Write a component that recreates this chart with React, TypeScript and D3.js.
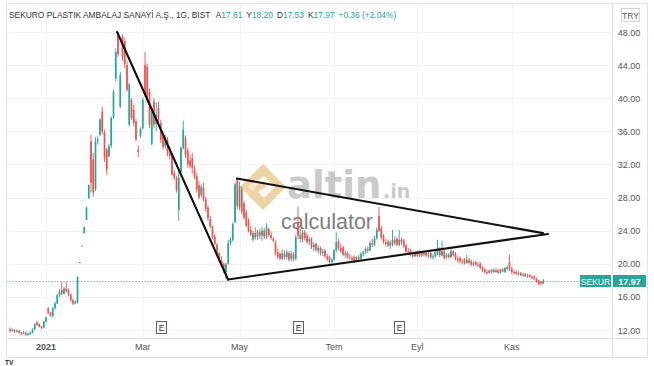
import * as d3 from "d3";

type Bar = [number, number, number, number]; // open, high, low, close

const dec2020: Bar[] = [
  [12.1, 12.3, 11.7, 11.9], [11.9, 12.2, 11.8, 12.0], [12.0, 12.1, 11.6, 11.8], [11.8, 12.1, 11.7, 11.9],
  [11.9, 12.0, 11.5, 11.7], [11.7, 11.8, 11.4, 11.6], [11.6, 11.9, 11.5, 11.7], [11.7, 11.8, 11.3, 11.4],
  [11.4, 11.7, 11.3, 11.5], [11.5, 11.8, 11.4, 11.7], [11.7, 12.2, 11.6, 12.1], [12.1, 12.8, 12.0, 12.7],
  [12.9, 13.1, 12.5, 12.6], [12.7, 12.8, 12.3, 12.4], [12.4, 12.5, 12.1, 12.3], [12.3, 13.1, 12.2, 13.0],
];
const jan: Bar[] = [
  [13.0, 13.6, 12.9, 13.5], [14.6, 14.8, 13.9, 14.0], [14.1, 14.2, 13.6, 13.7], [13.7, 14.8, 13.5, 14.6],
  [14.6, 15.4, 14.5, 15.2], [15.2, 16.4, 15.1, 16.2], [16.2, 16.9, 16.0, 16.6], [16.8, 17.8, 16.2, 16.4],
  [16.4, 17.2, 16.3, 17.0], [17.0, 17.8, 16.5, 16.7], [16.8, 17.0, 16.1, 16.3], [16.3, 16.4, 15.4, 15.6],
  [15.6, 15.8, 15.0, 15.2], [15.2, 15.6, 15.1, 15.4], [15.3, 18.5, 15.2, 18.4], [20.2, 20.2, 20.2, 20.2],
  [22.2, 22.2, 22.2, 22.2], [23.7, 24.5, 23.7, 24.4], [25.3, 26.9, 25.3, 26.8], [27.9, 29.6, 27.9, 29.5],
  [34.8, 35.6, 28.6, 29.8], [32.6, 33.4, 28.1, 28.6],
];
const feb: Bar[] = [
  [29.0, 35.3, 28.8, 34.8], [34.8, 35.4, 34.4, 35.0], [35.6, 37.6, 35.4, 37.4], [38.4, 39.0, 35.6, 36.0],
  [35.9, 36.2, 32.3, 32.8], [33.8, 34.0, 30.7, 31.4], [33.0, 34.5, 32.9, 34.2], [34.3, 37.8, 34.0, 37.6],
  [37.7, 41.0, 37.5, 40.8], [42.4, 46.0, 42.0, 45.6], [47.6, 48.0, 45.0, 45.3], [39.0, 43.2, 38.8, 42.8],
  [47.4, 47.7, 44.5, 45.0], [46.9, 47.3, 43.6, 44.2], [44.0, 44.5, 40.8, 41.0], [36.8, 41.9, 36.6, 41.7],
  [39.8, 40.0, 37.4, 37.6], [38.6, 39.2, 36.6, 37.0], [37.2, 37.5, 34.8, 35.0], [33.8, 34.3, 32.9, 33.5],
  [35.4, 36.5, 35.2, 36.3],
];
const mar: Bar[] = [
  [36.4, 40.1, 36.2, 39.8], [44.0, 45.6, 40.2, 40.5], [43.8, 44.2, 39.4, 39.6], [40.8, 41.2, 36.4, 36.8],
  [34.5, 38.8, 34.3, 38.4], [39.6, 40.0, 36.4, 36.8], [36.9, 39.5, 36.0, 38.0], [38.8, 39.6, 37.0, 37.3],
  [37.0, 37.4, 34.6, 35.0], [35.6, 35.9, 33.8, 34.1], [34.2, 35.6, 33.9, 35.2], [35.0, 35.3, 33.0, 33.4],
  [33.6, 34.2, 32.6, 33.0], [33.0, 33.3, 30.6, 30.8], [31.0, 31.3, 30.1, 30.4], [30.4, 30.6, 28.6, 28.9],
  [26.5, 31.5, 25.2, 30.4], [31.1, 34.2, 31.0, 34.0], [34.0, 37.3, 33.8, 36.2], [35.2, 35.5, 32.8, 33.1],
  [33.7, 34.0, 31.6, 32.0], [32.5, 33.2, 31.5, 31.8],
];
const apr: Bar[] = [
  [32.8, 33.4, 30.9, 31.6], [31.4, 31.9, 30.2, 30.5], [30.6, 31.0, 28.6, 29.0], [29.5, 30.0, 27.8, 28.0],
  [28.3, 29.6, 28.0, 29.3], [29.2, 29.8, 27.5, 27.8], [27.8, 28.1, 26.3, 26.6], [26.8, 27.0, 25.2, 25.5],
  [25.4, 25.8, 24.3, 24.5], [24.5, 24.6, 23.0, 23.2], [23.3, 23.6, 22.2, 22.4], [22.3, 22.5, 20.9, 21.2],
  [21.3, 21.4, 20.2, 20.4], [20.4, 20.9, 19.6, 19.8], [20.0, 20.2, 18.9, 19.2], [19.0, 20.1, 18.2, 19.9],
  [20.0, 22.9, 19.9, 22.5], [22.5, 23.2, 22.2, 22.9], [22.9, 25.0, 22.7, 24.8], [25.0, 29.8, 24.9, 29.6],
  [30.2, 30.4, 26.6, 27.0],
];
const may: Bar[] = [
  [26.8, 29.9, 26.5, 29.4], [29.0, 29.3, 26.0, 26.3], [27.3, 27.6, 25.3, 25.6], [26.2, 26.5, 24.4, 24.6],
  [25.3, 25.5, 23.8, 24.0], [24.1, 24.6, 23.3, 23.5], [22.9, 24.0, 22.7, 23.7], [23.7, 24.4, 22.9, 23.2],
  [23.3, 24.1, 22.9, 23.9], [23.8, 24.2, 23.0, 23.4], [23.4, 24.4, 22.8, 24.0], [24.0, 24.3, 23.0, 23.3],
  [23.2, 24.9, 23.0, 24.4], [24.2, 24.4, 23.2, 23.5], [23.5, 23.9, 22.9, 23.1], [23.0, 23.2, 22.6, 22.8],
  [22.6, 22.8, 21.0, 21.3], [21.4, 21.8, 20.6, 20.8], [21.2, 21.4, 20.4, 20.6], [20.6, 21.7, 20.4, 21.3],
  [21.2, 21.6, 20.5, 20.8],
];
const jun: Bar[] = [
  [20.8, 21.7, 20.5, 21.4], [21.3, 21.5, 20.3, 20.5], [20.6, 21.6, 20.3, 21.2], [21.2, 21.4, 20.3, 20.6],
  [20.6, 23.5, 20.4, 23.2], [25.0, 26.9, 23.0, 23.4], [23.5, 24.2, 22.6, 23.0], [22.9, 24.1, 22.6, 23.8],
  [23.8, 24.1, 22.8, 23.1], [23.4, 23.7, 22.4, 22.6], [22.7, 23.3, 22.3, 23.0], [23.0, 23.2, 21.8, 22.0],
  [22.0, 22.6, 21.5, 22.3], [22.4, 22.6, 21.4, 21.7], [21.6, 22.2, 21.2, 21.9], [21.9, 22.1, 21.0, 21.3],
  [21.3, 21.8, 20.9, 21.5], [21.6, 21.8, 20.7, 20.9], [20.9, 21.2, 20.3, 20.6], [20.8, 21.0, 20.0, 20.2],
  [20.2, 20.7, 20.0, 20.5],
];
const jul: Bar[] = [
  [20.5, 21.8, 20.3, 21.6], [21.6, 23.8, 21.4, 22.6], [22.7, 23.0, 21.6, 21.9], [21.9, 22.4, 21.3, 21.5],
  [22.0, 22.2, 20.9, 21.1], [21.1, 21.6, 20.7, 21.3], [21.3, 21.5, 20.6, 20.8], [20.8, 21.2, 20.5, 20.7],
  [20.7, 21.0, 20.3, 20.5], [20.8, 21.0, 20.1, 20.3], [20.3, 20.9, 20.2, 20.8], [20.8, 21.1, 20.4, 20.6],
  [20.6, 21.4, 20.5, 21.2], [21.2, 21.6, 20.9, 21.4], [21.4, 22.0, 21.2, 21.8], [21.8, 22.1, 21.3, 21.6],
  [21.6, 22.8, 21.5, 22.5], [22.5, 23.0, 22.0, 22.3], [22.3, 23.4, 22.1, 23.1],
];
const aug: Bar[] = [
  [23.1, 24.4, 22.9, 24.1], [25.8, 26.9, 23.8, 24.0], [24.3, 24.6, 22.9, 23.2], [23.4, 23.6, 22.4, 22.6],
  [22.6, 23.0, 22.1, 22.4], [22.7, 22.9, 22.0, 22.2], [22.2, 22.8, 21.8, 22.6], [22.3, 24.1, 22.1, 22.9],
  [22.9, 23.3, 22.2, 22.5], [23.0, 23.2, 22.1, 22.3], [22.3, 24.1, 22.1, 22.9], [22.9, 23.2, 22.3, 22.6],
  [22.8, 23.0, 21.9, 22.1], [22.2, 22.4, 21.3, 21.5], [21.5, 21.9, 21.1, 21.4], [21.6, 21.8, 20.9, 21.1],
  [21.1, 21.5, 20.7, 20.9], [20.9, 21.5, 20.8, 21.3],
];
const sep: Bar[] = [
  [21.3, 21.6, 20.8, 21.0], [21.4, 21.6, 20.8, 21.0], [21.0, 21.5, 20.8, 21.3], [21.3, 21.6, 20.9, 21.1],
  [21.3, 21.5, 20.8, 21.0], [21.0, 21.4, 20.7, 21.2], [21.3, 21.5, 20.6, 20.8], [20.8, 21.2, 20.5, 20.9],
  [20.9, 21.7, 20.7, 21.4], [21.1, 22.9, 21.0, 21.8], [21.8, 22.0, 20.8, 21.0], [21.0, 22.8, 20.9, 21.5],
  [21.5, 21.7, 20.5, 20.7], [20.8, 21.3, 20.6, 21.1], [21.1, 21.3, 20.6, 20.8], [20.8, 21.8, 20.7, 21.5],
  [21.5, 21.7, 20.9, 21.1], [21.2, 21.4, 20.4, 20.6], [20.6, 20.9, 20.1, 20.4], [20.7, 20.9, 20.1, 20.3],
  [20.3, 20.6, 19.9, 20.2], [20.5, 20.7, 19.9, 20.1],
];
const oct: Bar[] = [
  [20.1, 21.1, 20.0, 20.5], [20.5, 20.7, 19.9, 20.1], [20.3, 20.5, 19.7, 19.9], [19.9, 20.3, 19.7, 20.1],
  [20.2, 20.4, 19.7, 19.9], [19.9, 20.2, 19.6, 19.8], [20.0, 20.2, 19.3, 19.5], [19.5, 19.7, 19.0, 19.2],
  [19.3, 19.5, 18.8, 19.0], [19.0, 19.3, 18.7, 18.9], [18.9, 19.3, 18.8, 19.2], [19.2, 19.4, 18.8, 19.0],
  [19.0, 19.4, 18.9, 19.3], [19.2, 19.5, 18.9, 19.0], [19.2, 19.4, 18.8, 18.9], [18.9, 19.4, 18.8, 19.3],
  [19.3, 19.5, 19.0, 19.1], [19.0, 19.6, 18.9, 19.5], [19.4, 19.8, 19.2, 19.6], [20.2, 21.1, 19.1, 19.3],
];
const nov: Bar[] = [
  [19.4, 19.6, 18.8, 19.0], [19.0, 19.3, 18.7, 18.9], [19.0, 19.2, 18.6, 18.8], [18.8, 19.1, 18.5, 18.9],
  [18.9, 19.0, 18.5, 18.6], [18.6, 18.9, 18.4, 18.7], [18.8, 18.9, 18.4, 18.5], [18.5, 18.8, 18.3, 18.6],
  [18.6, 18.8, 18.3, 18.4], [18.4, 18.6, 18.1, 18.3], [18.5, 18.6, 18.0, 18.2], [18.2, 18.3, 17.7, 17.9],
  [18.0, 18.1, 17.4, 17.5], [17.8, 17.9, 17.4, 17.61], [17.61, 18.2, 17.53, 17.97],
];

const months: { label: string; bars: Bar[] }[] = [
  { label: "", bars: dec2020 },
  { label: "2021", bars: jan },
  { label: "", bars: feb },
  { label: "Mar", bars: mar },
  { label: "", bars: apr },
  { label: "May", bars: may },
  { label: "", bars: jun },
  { label: "Tem", bars: jul },
  { label: "", bars: aug },
  { label: "Eyl", bars: sep },
  { label: "", bars: oct },
  { label: "Kas", bars: nov },
];

const priceTicks = [12, 16, 20, 24, 28, 32, 36, 40, 44, 48];

// drawn trend lines: [bar index, price]
const trendLines: [number, number][][] = [
  [[47.6, 48.0], [96.9, 18.1]],
  [[96.9, 18.1], [239.1, 23.6]],
  [[100.9, 30.3], [236.9, 23.7]],
];

const earningsIdx = [67, 128, 173];

const symbol = "SEKUR";
const title = "SEKURO PLASTIK AMBALAJ SANAYİ A.Ş., 1G, BIST";
const lastChange = "+0.36 (+2.04%)";

const UP = "#26a69a";
const DOWN = "#ef5350";
const FONT = "'Liberation Sans', Arial, sans-serif";

export default function App() {
  const bars = months.flatMap((m) => m.bars);
  const monthStarts: { label: string; idx: number }[] = [];
  let acc = 0;
  months.forEach((m) => {
    if (m.label) monthStarts.push({ label: m.label, idx: acc });
    acc += m.bars.length;
  });

  const x = d3.scaleLinear().domain([0, bars.length - 1]).range([10, 10 + (bars.length - 1) * 2.25]);
  const y = d3.scaleLinear().domain([12, 48]).range([330, 32]);

  const plotL = 6.5;
  const plotR = 612.5;
  const plotB = 338.5;
  const last = bars[bars.length - 1];
  const lastY = Math.round(y(last[3])) + 0.5;
  const line = d3.line<[number, number]>().x((d) => x(d[0])).y((d) => y(d[1]));

  return (
    <svg
      width={654}
      height={366}
      style={{ position: "absolute", left: 0, top: 0, background: "#fff" }}
      fontFamily={FONT}
    >
      <rect x={0} y={0} width={654} height={366} fill="#fff" />
      {/* grid */}
      {priceTicks.map((t) => (
        <line key={"h" + t} x1={plotL} x2={plotR} y1={Math.round(y(t)) + 0.5} y2={Math.round(y(t)) + 0.5} stroke="#f0f3fa" />
      ))}
      {monthStarts.map((m) => (
        <line key={"v" + m.label} x1={Math.round(x(m.idx)) + 0.5} x2={Math.round(x(m.idx)) + 0.5} y1={3} y2={plotB} stroke="#f0f3fa" />
      ))}

      {/* watermark */}
      <g opacity={0.6}>
        <g transform="translate(263,187)">
          <path d="M0,-23 L23,0 L0,23 L-23,0 Z" fill="#e2b86a" />
          <path d="M1,-11 L12,0 L1,11 L-5,5 L4,-1 L-5,-7 Z" fill="#fff" opacity={0.85} />
          <path d="M-15,0 L-7,-8 L-3,-4 L-11,4 Z" fill="#f3dcae" />
        </g>
        <text x={287} y={198} fontSize={37} fontWeight="bold" fill="#a8a8a8" fontFamily="'DejaVu Sans', sans-serif">
          altin
        </text>
        <text x={383} y={198} fontSize={19} fontWeight="bold" fill="#a8a8a8" fontFamily="'DejaVu Sans', sans-serif">
          .in
        </text>
      </g>
      <text x={281} y={229} fontSize={21.5} fill="#5f5f5f" opacity={0.8}>
        calculator
      </text>

      {/* last price dotted line */}
      <line x1={plotL} x2={plotR} y1={lastY} y2={lastY} stroke={UP} strokeDasharray="1,2" />

      {/* candles */}
      {bars.map((b, i) => {
        const [o, h, l, c] = b;
        const col = c >= o ? UP : DOWN;
        const cx = x(i);
        const top = y(Math.max(o, c));
        const bh = Math.max(1, Math.abs(y(o) - y(c)));
        return (
          <g key={i}>
            <line x1={cx} x2={cx} y1={y(h)} y2={y(l)} stroke={col} strokeWidth={0.9} />
            <rect x={cx - 0.85} y={top} width={1.7} height={bh} fill={col} />
          </g>
        );
      })}

      {/* trend lines */}
      {trendLines.map((seg, k) => (
        <path key={k} d={line(seg) ?? ""} fill="none" stroke="#111" strokeWidth={2.1} strokeLinecap="round" />
      ))}

      {/* earnings markers */}
      {earningsIdx.map((i) => (
        <g key={"e" + i} transform={`translate(${Math.round(x(i)) + 0.5},321.5)`}>
          <rect x={-5} y={0} width={10} height={12} fill="#fff" stroke="#5d606b" />
          <text x={0} y={9.5} fontSize={8.5} textAnchor="middle" fill="#333">E</text>
        </g>
      ))}

      {/* frame & axis separators */}
      <rect x={plotL} y={3.5} width={641} height={354} fill="none" stroke="#e0e3eb" />
      <line x1={plotR} x2={plotR} y1={3.5} y2={357.5} stroke="#e0e3eb" />
      <line x1={plotL} x2={647.5} y1={plotB} y2={plotB} stroke="#e0e3eb" />

      {/* right axis */}
      {priceTicks.map((t) => (
        <text key={"t" + t} x={629} y={y(t) + 3.5} fontSize={9} textAnchor="middle" fill="#555">
          {t.toFixed(2)}
        </text>
      ))}
      <rect x={621.5} y={8.5} width={18} height={13} fill="#fff" stroke="#d1d4dc" />
      <text x={630.5} y={18.5} fontSize={8.5} textAnchor="middle" fill="#555">TRY</text>

      {/* last price labels */}
      <rect x={580} y={lastY - 6.5} width={31} height={12} fill={UP} />
      <text x={595.5} y={lastY + 3} fontSize={8.5} textAnchor="middle" fill="#fff">{symbol}</text>
      <rect x={613} y={lastY - 6.5} width={33} height={12} fill={UP} />
      <text x={629.5} y={lastY + 3.2} fontSize={9} textAnchor="middle" fill="#fff" fontWeight="bold">
        {last[3].toFixed(2)}
      </text>

      {/* time axis */}
      {monthStarts.map((m) => (
        <text key={"l" + m.label} x={x(m.idx)} y={350} fontSize={9} textAnchor="middle" fill="#555" fontWeight={m.label === "2021" ? "bold" : "normal"}>
          {m.label}
        </text>
      ))}

      {/* header */}
      <text x={9} y={17.5} fontSize={8.4} fill="#333">
        <tspan>{title}</tspan>
        <tspan dx={6} fill="#333">A</tspan>
        <tspan fill={UP}>{bars[bars.length - 1][0].toFixed(2)}</tspan>
        <tspan dx={4} fill="#333">Y</tspan>
        <tspan fill={UP}>{last[1].toFixed(2)}</tspan>
        <tspan dx={4} fill="#333">D</tspan>
        <tspan fill={UP}>{last[2].toFixed(2)}</tspan>
        <tspan dx={4} fill="#333">K</tspan>
        <tspan fill={UP}>{last[3].toFixed(2)}</tspan>
        <tspan dx={4} fill={UP}>{lastChange}</tspan>
      </text>

      <text x={5} y={364.5} fontSize={6.5} fill="#222" fontWeight="bold">TV</text>
    </svg>
  );
}
